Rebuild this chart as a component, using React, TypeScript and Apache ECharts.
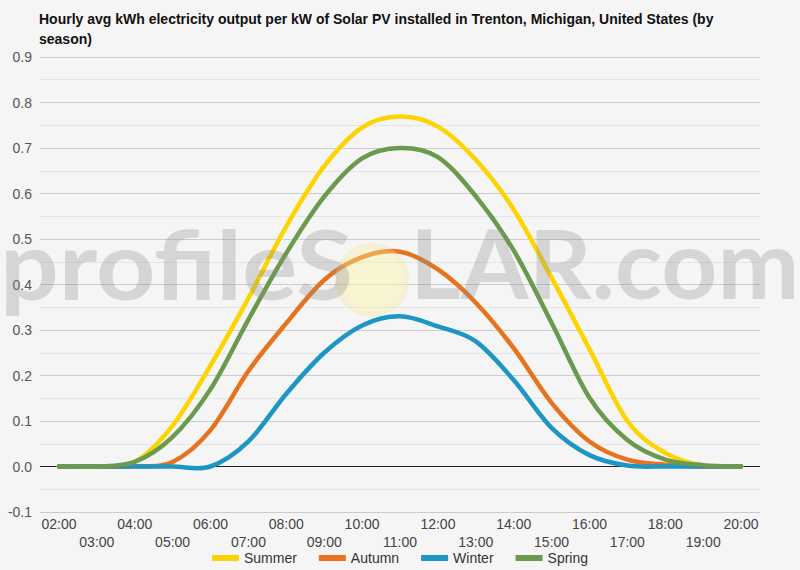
import React, { useEffect, useRef } from "react";
import * as echarts from "echarts";

const hours = ["02:00","03:00","04:00","05:00","06:00","07:00","08:00","09:00","10:00","11:00","12:00","13:00","14:00","15:00","16:00","17:00","18:00","19:00","20:00"];
const summer = [0, 0, 0.01, 0.09, 0.222, 0.37, 0.528, 0.66, 0.745, 0.769, 0.747, 0.674, 0.565, 0.415, 0.258, 0.1, 0.03, 0.002, 0];
const autumn = [0, 0, 0, 0.01, 0.08, 0.21, 0.315, 0.41, 0.46, 0.472, 0.433, 0.36, 0.26, 0.14, 0.055, 0.015, 0.004, 0, 0];
const winter = [0, 0, 0, 0, 0, 0.055, 0.16, 0.25, 0.31, 0.33, 0.308, 0.275, 0.19, 0.085, 0.025, 0.002, 0, 0, 0];
const spring = [0, 0, 0.01, 0.065, 0.17, 0.323, 0.469, 0.593, 0.677, 0.7, 0.68, 0.594, 0.475, 0.316, 0.151, 0.058, 0.015, 0.003, 0];
const seriesNames = ["Summer", "Autumn", "Winter", "Spring"];
const seriesColors = ["#fdd400", "#e8731e", "#1d95c5", "#6a9a4e"];
const yTicks = [-0.1, 0, 0.1, 0.2, 0.3, 0.4, 0.5, 0.6, 0.7, 0.8, 0.9];

const FONT = "Liberation Sans, Arial, sans-serif";

function splinePath(pts: number[][]): string {
  const n = pts.length;
  let d = `M${pts[0][0]},${pts[0][1]}`;
  for (let i = 0; i < n - 1; i++) {
    const p0 = pts[i - 1] || pts[i];
    const p1 = pts[i];
    const p2 = pts[i + 1];
    const p3 = pts[i + 2] || pts[i + 1];
    const c1x = p1[0] + (p2[0] - p0[0]) / 6;
    const c1y = p1[1] + (p2[1] - p0[1]) / 6;
    const c2x = p2[0] - (p3[0] - p1[0]) / 6;
    const c2y = p2[1] - (p3[1] - p1[1]) / 6;
    d += ` C${c1x},${c1y} ${c2x},${c2y} ${p2[0]},${p2[1]}`;
  }
  return d;
}

export default function App() {
  const ref = useRef<HTMLDivElement>(null);
  useEffect(() => {
    const chart = echarts.init(ref.current!, null, { renderer: "svg" });
    const dataSets = [summer, autumn, winter, spring];
    const splitColors = yTicks.map((t) => (t === 0 ? "#222222" : "#cccccc"));
    chart.setOption({
      animation: false,
      backgroundColor: "#f5f5f5",
      title: {
        text: "Hourly avg kWh electricity output per kW of Solar PV installed in Trenton, Michigan, United States (by\nseason)",
        left: 34,
        top: 4,
        textStyle: { fontFamily: FONT, fontSize: 14, fontWeight: "bold", color: "#111", lineHeight: 20 },
      },
      legend: {
        data: seriesNames,
        left: "center",
        bottom: 0,
        icon: "rect",
        itemWidth: 27,
        itemHeight: 6,
        itemGap: 22,
        textStyle: { fontFamily: FONT, fontSize: 14, color: "#333" },
      },
      grid: { left: 40, right: 40, top: 57, bottom: 58 },
      xAxis: {
        type: "category",
        data: hours,
        boundaryGap: true,
        axisLine: { show: false },
        axisTick: { show: false },
        axisLabel: {
          interval: 0,
          margin: 3,
          fontFamily: FONT,
          fontSize: 14,
          lineHeight: 18,
          color: "#444",
          formatter: (v: string, i: number) => (i % 2 ? "\n" + v : v),
        },
      },
      yAxis: {
        type: "value",
        min: -0.1,
        max: 0.9,
        interval: 0.1,
        axisLine: { show: false },
        axisTick: { show: false },
        axisLabel: {
          margin: 8,
          fontFamily: FONT,
          fontSize: 14,
          color: "#555",
          formatter: (v: number) => v.toFixed(1),
        },
        splitLine: { show: true, lineStyle: { color: splitColors, width: 1 } },
        minorTick: { show: false, splitNumber: 2 },
        minorSplitLine: { show: true, lineStyle: { color: "#e4e4e4", width: 1 } },
      },
      series: seriesNames.map((name, k) => {
        const vals = dataSets[k];
        return {
          name,
          type: "custom",
          data: vals.map((v, i) => [i, v]),
          encode: { x: 0, y: 1 },
          itemStyle: { color: seriesColors[k] },
          z: 3,
          renderItem: (params: any, api: any) => {
            if (params.dataIndex !== 0) return null;
            const pts = vals.map((v, i) => api.coord([i, v]));
            return {
              type: "path",
              shape: { pathData: splinePath(pts) },
              style: {
                fill: "none",
                stroke: seriesColors[k],
                lineWidth: 4.5,
                lineJoin: "round",
                lineCap: "round",
              },
            };
          },
        };
      }),
      graphic: [
        {
          type: "circle",
          shape: { cx: 372, cy: 280, r: 37 },
          style: {
            fill: new echarts.graphic.RadialGradient(0.5, 0.5, 0.5, [
              { offset: 0, color: "rgba(255,250,160,0.42)" },
              { offset: 0.8, color: "rgba(252,242,150,0.38)" },
              { offset: 1, color: "rgba(245,220,150,0.3)" },
            ]),
          },
          z: 100,
          silent: true,
        },
        {
          type: "text",
          x: 0,
          y: 263,
          scaleX: 1.09,
          style: {
            text: "profileS",
            fontFamily: "Lato, sans-serif",
            fontWeight: "bold",
            fontSize: 95,
            fill: "rgba(140,140,140,0.3)",
            textAlign: "left",
            textVerticalAlign: "middle",
          },
          z: 100,
          silent: true,
        },
        {
          type: "text",
          x: 410,
          y: 263,
          scaleX: 1.03,
          style: {
            text: "LAR.com",
            fontFamily: "Lato, sans-serif",
            fontWeight: "bold",
            fontSize: 95,
            fill: "rgba(140,140,140,0.3)",
            textAlign: "left",
            textVerticalAlign: "middle",
          },
          z: 100,
          silent: true,
        },
      ],
    });
    return () => chart.dispose();
  }, []);
  return (
    <div
      ref={ref}
      style={{ position: "absolute", left: 0, top: 0, width: 800, height: 570, background: "#f5f5f5" }}
    />
  );
}
